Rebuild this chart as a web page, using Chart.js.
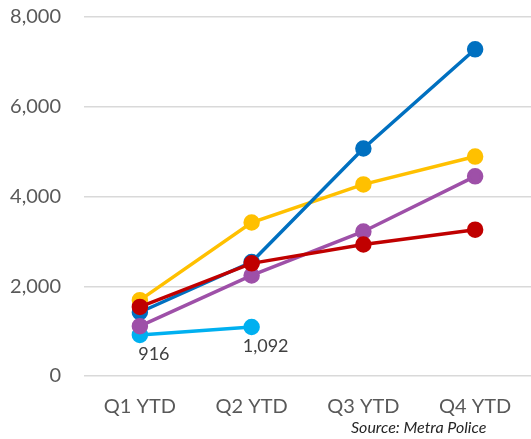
<!DOCTYPE html>
<html>
<head>
<meta charset="utf-8">
<script src="https://cdn.jsdelivr.net/npm/chart.js@4/dist/chart.umd.min.js"></script>
<style>
  html, body { margin: 0; padding: 0; background: #fff; }
  #wrap { position: relative; width: 531px; height: 439px; }
  #source {
    position: absolute; left: 351px; top: 417px;
    font: italic 16px Lato, "Open Sans", sans-serif; color: #262626;
  }
</style>
</head>
<body>
<div id="wrap">
  <canvas id="chart" width="531" height="439"></canvas>
  <div id="source">Source: Metra Police</div>
</div>
<script>
'use strict';

const QUARTERS = ['Q1 YTD', 'Q2 YTD', 'Q3 YTD', 'Q4 YTD'];
const RED_VALUES = [1540, 2510, 2930, 3260];
const PURPLE_VALUES = [1110, 2240, 3220, 4450];
const BLUE_VALUES = [1420, 2540, 5070, 7280];
const YELLOW_VALUES = [1690, 3420, 4270, 4890];
const CURRENT_VALUES = [916, 1092, null, null];

const FONT = 'Lato, "Open Sans", sans-serif';

function series(data, color) {
  return {
    data,
    borderColor: color,
    backgroundColor: color,
    pointBackgroundColor: color,
    pointBorderColor: color,
    borderWidth: 3.5,
    pointRadius: 6.5,
    tension: 0,
  };
}

// labels under the current-year points
const pointLabels = {
  id: 'pointLabels',
  afterDatasetsDraw(chart) {
    const ctx = chart.ctx;
    const idx = chart.data.datasets.length - 1;
    const meta = chart.getDatasetMeta(idx);
    ctx.save();
    ctx.font = '18px ' + FONT;
    ctx.fillStyle = '#404040';
    ctx.textAlign = 'center';
    ctx.textBaseline = 'middle';
    meta.data.forEach((pt, i) => {
      const v = chart.data.datasets[idx].data[i];
      if (v == null) return;
      ctx.fillText(v.toLocaleString('en-US'), pt.x + 14, pt.y + 19);
    });
    ctx.restore();
  },
};

new Chart(document.getElementById('chart'), {
  type: 'line',
  data: {
    labels: QUARTERS,
    datasets: [
      series(RED_VALUES, '#C00000'),
      series(PURPLE_VALUES, '#9E50A8'),
      series(BLUE_VALUES, '#0070C0'),
      series(YELLOW_VALUES, '#FFC000'),
      series(CURRENT_VALUES, '#00B0F0'),
    ],
  },
  options: {
    responsive: false,
    animation: false,
    layout: { autoPadding: false, padding: { top: 17, right: 0, left: 0, bottom: 0 } },
    plugins: { legend: { display: false }, tooltip: { enabled: false } },
    scales: {
      x: {
        offset: true,
        grid: { display: false, drawTicks: false },
        border: { display: false },
        ticks: { color: '#595959', font: { family: FONT, size: 20 }, padding: 19 },
        afterFit: (s) => { s.height = 63; s.paddingLeft = 0; s.paddingRight = 0; },
      },
      y: {
        min: 0,
        max: 8000,
        grid: { color: '#D9D9D9', lineWidth: 1.5, drawTicks: false },
        border: { display: false },
        ticks: {
          stepSize: 2000,
          color: '#595959',
          font: { family: FONT, size: 20 },
          padding: 23,
          callback: (v) => v.toLocaleString('en-US'),
        },
        afterFit: (s) => { s.width = 84; s.paddingTop = 0; s.paddingBottom = 0; },
      },
    },
  },
  plugins: [pointLabels],
});
</script>
</body>
</html>
